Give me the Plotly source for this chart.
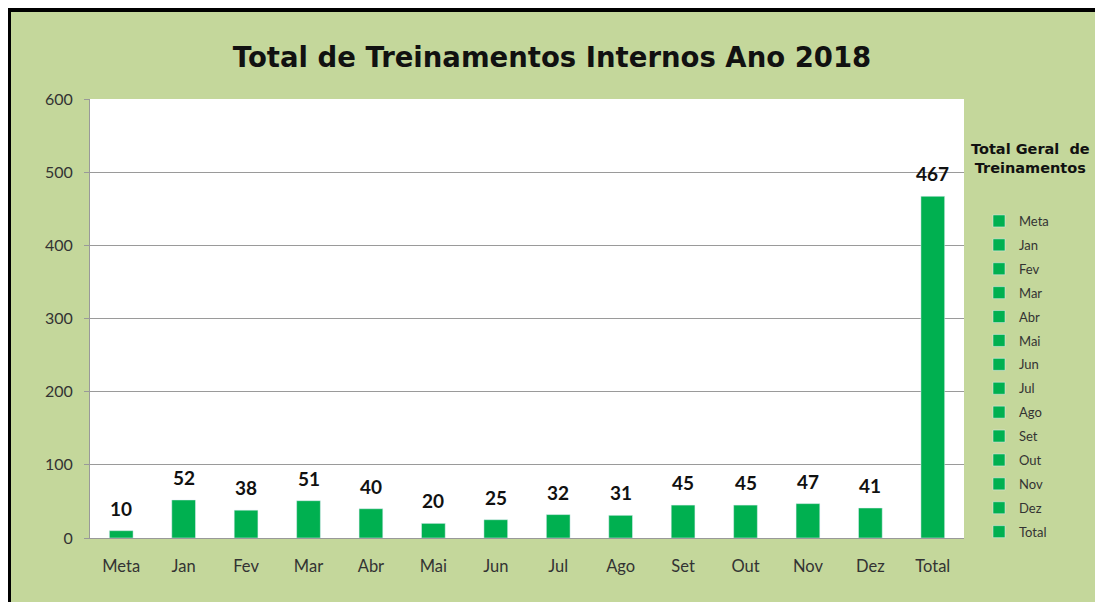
import plotly.graph_objects as go

categories = ["Meta", "Jan", "Fev", "Mar", "Abr", "Mai", "Jun", "Jul", "Ago", "Set", "Out", "Nov", "Dez", "Total"]
values = [10, 52, 38, 51, 40, 20, 25, 32, 31, 45, 45, 47, 41, 467]
y_ticks = [0, 100, 200, 300, 400, 500, 600]

# page is offset by the 8px body margin; figure coordinates below are page - 8
W, H = 1103, 602
L, R, T, B = 82, 147, 91, 72
GREEN_BG = "#c4d79b"
BAR = "#00b050"

def px2x(px):
    return (px - L) / (W - L - R)

def py2y(py):
    return 1 - (py - T) / (H - T - B)

fig = go.Figure()
for i, (c, v) in enumerate(zip(categories, values)):
    fig.add_trace(go.Bar(
        x=[c], y=[v], name=c, marker_color=BAR, legendgroup=f"g{i}",
        showlegend=True,
    ))
    fig.add_annotation(
        x=c, y=v, text=f"<b>{v}</b>", showarrow=False, yanchor="bottom",
        yshift=9, font=dict(family="Lato", size=19, color="#111111"),
    )

fig.add_annotation(
    xref="paper", yref="paper", x=px2x(1023), y=py2y(131), xanchor="center", yanchor="top",
    text="<b>Total Geral  de<br>Treinamentos</b>", showarrow=False, align="center",
    font=dict(family="DejaVu Sans", size=14.5, color="#111111"),
)

shapes = [
    dict(type="rect", xref="paper", yref="paper", x0=px2x(-2), x1=px2x(W), y0=py2y(0), y1=py2y(4),
         fillcolor="black", line_width=0, layer="below"),
    dict(type="rect", xref="paper", yref="paper", x0=px2x(-2), x1=px2x(3), y0=py2y(0), y1=py2y(H),
         fillcolor="black", line_width=0, layer="below"),
]

fig.update_layout(
    width=W, height=H,
    margin=dict(l=L, r=R, t=T, b=B),
    paper_bgcolor=GREEN_BG, plot_bgcolor="white",
    barmode="overlay", bargap=0.62,
    shapes=shapes,
    title=dict(text="<b>Total de Treinamentos Internos Ano 2018</b>", x=px2x(544), xref="paper",
               y=1 - 49 / H, yref="container", xanchor="center", yanchor="middle",
               font=dict(family="DejaVu Sans", size=27.5, color="#111111")),
    showlegend=True,
    legend=dict(x=px2x(971), y=py2y(198), xanchor="left", yanchor="top",
                bgcolor="rgba(0,0,0,0)", font=dict(family="Lato", size=13, color="#333333"),
                tracegroupgap=4, itemwidth=30, traceorder="grouped"),
    xaxis=dict(showline=True, linecolor="#999999", linewidth=1, tickfont=dict(family="Lato", size=16.5, color="#333333"),
               ticks="", ticklabelstandoff=13, fixedrange=True),
    yaxis=dict(range=[0, 600], tickvals=y_ticks, showgrid=True, gridcolor="#9a9a9a", gridwidth=1,
               showline=True, linecolor="#999999", linewidth=1, ticks="outside", ticklen=5, tickcolor="#999999",
               tickfont=dict(family="Lato", size=16, color="#333333"), ticklabelstandoff=8, zeroline=False),
)

fig.write_html("out.html")
